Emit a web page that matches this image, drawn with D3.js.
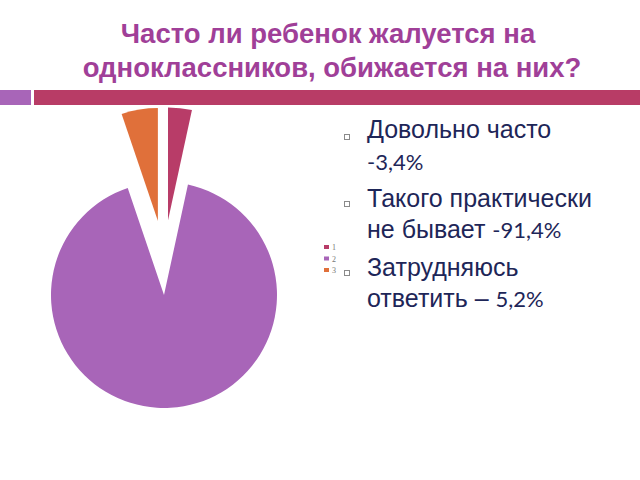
<!DOCTYPE html>
<html>
<head>
<meta charset="utf-8">
<script src="https://cdn.jsdelivr.net/npm/d3@7"></script>
<style>
  html, body { margin: 0; padding: 0; background: #ffffff; }
  svg { display: block; }
</style>
</head>
<body>
<svg id="chart" width="640" height="480"></svg>
<script>
// ---- data ----
const titleLines = ["Часто ли ребенок жалуется на", "одноклассников, обижается на них?"];
const categories = ["1", "2", "3"];
const values = [3.4, 91.4, 5.2];
const colors = ["#b83c68", "#a865b8", "#e0703a"];
const explode = [75, 0, 75];
const bulletItems = [
  [{t: "Довольно часто"}, {t: "-3,4%", num: true}],
  [{t: "Такого практически"}, {t: "не бывает "}, {t: "-91,4%", num: true, inline: true}],
  [{t: "Затрудняюсь"}, {t: "ответить – "}, {t: "5,2%", num: true, inline: true}]
];

const svg = d3.select("#chart");

// ---- title ----
const title = svg.append("text")
  .attr("text-anchor", "middle")
  .attr("font-family", "Liberation Sans, Arial, sans-serif")
  .attr("font-weight", "bold")
  .attr("font-size", 27.5)
  .attr("fill", "#a03f98");
title.append("tspan").attr("x", 328).attr("y", 43).text(titleLines[0]);
title.append("tspan").attr("x", 332).attr("y", 77).text(titleLines[1]);

// ---- decorative bar ----
svg.append("rect").attr("x", 0).attr("y", 90).attr("width", 31).attr("height", 15).attr("fill", "#a865b8");
svg.append("rect").attr("x", 34).attr("y", 90).attr("width", 606).attr("height", 15).attr("fill", "#b83c66");

// ---- pie ----
const cx = 164, cy = 295, r = 113;
const pie = d3.pie().sort(null).value(d => d)(values);
const arc = d3.arc().innerRadius(0).outerRadius(r);
const g = svg.append("g").attr("transform", `translate(${cx},${cy})`);
g.selectAll("path")
  .data(pie)
  .join("path")
  .attr("d", arc)
  .attr("fill", (d, i) => colors[i])
  .attr("transform", (d, i) => {
    const mid = (d.startAngle + d.endAngle) / 2;
    const e = explode[i];
    return `translate(${0.5 * e * Math.sin(mid)},${-e * Math.cos(mid)})`;
  });

// ---- small legend ----
const leg = svg.append("g").attr("transform", "translate(324,245)");
const legY = d3.scalePoint().domain(categories).range([0, 23]);
categories.forEach((c, i) => {
  leg.append("rect").attr("x", 0).attr("y", legY(c)).attr("width", 5).attr("height", 4).attr("fill", colors[i]);
  leg.append("text").attr("x", 8).attr("y", legY(c) + 5)
    .attr("font-family", "Liberation Serif, serif").attr("font-size", 8).attr("fill", "#777")
    .text(c);
});

// ---- bullet list ----
const lineBaselines = [[138, 170], [207, 238], [276, 307]];
const bulletY = [134, 201, 270];
bulletItems.forEach((item, k) => {
  svg.append("rect").attr("x", 344.5).attr("y", bulletY[k] + 0.5).attr("width", 5).attr("height", 5)
    .attr("fill", "none").attr("stroke", "#8a8a8a").attr("stroke-width", 1);
  const t = svg.append("text")
    .attr("font-family", "Liberation Sans, Arial, sans-serif")
    .attr("font-size", 25)
    .attr("fill", "#1e2658");
  let line = 0;
  item.forEach((seg, j) => {
    const ts = t.append("tspan").text(seg.t);
    if (!seg.inline) {
      ts.attr("x", 367).attr("y", lineBaselines[k][line]);
      line++;
    }
    if (seg.num) ts.attr("font-family", "Lato, Carlito, sans-serif").attr("font-size", 22);
  });
});
</script>
</body>
</html>
